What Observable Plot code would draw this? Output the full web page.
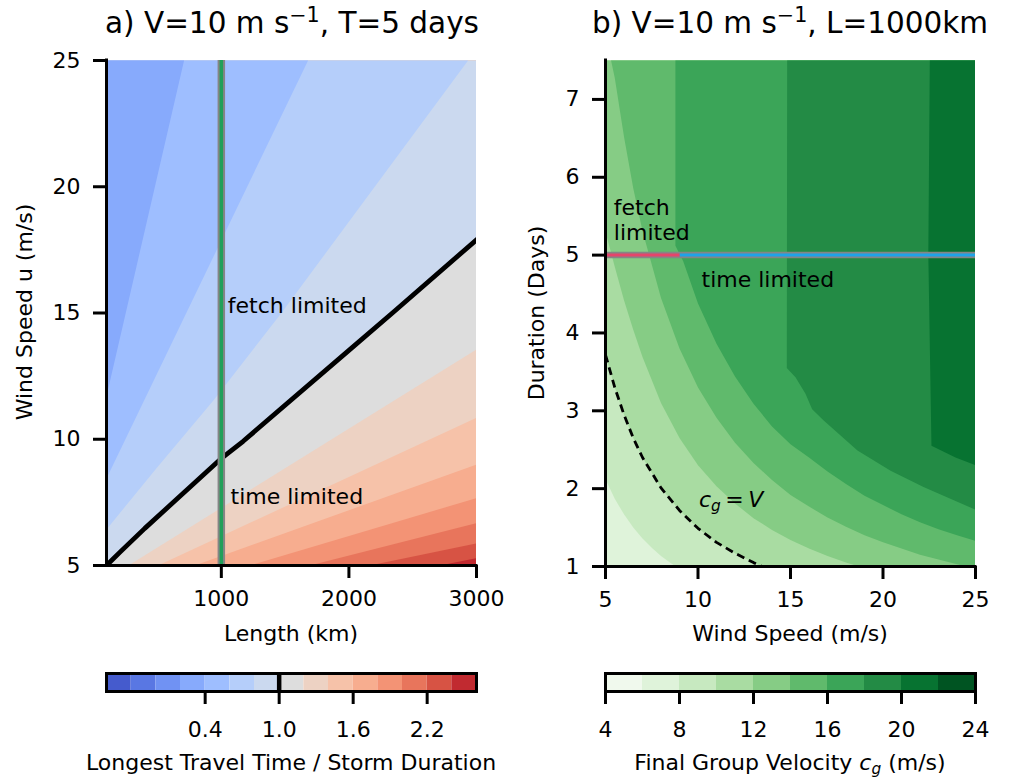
<!DOCTYPE html>
<html><head><meta charset="utf-8">
<script src="https://cdn.jsdelivr.net/npm/d3@7"></script>
<script src="https://cdn.jsdelivr.net/npm/@observablehq/plot@0.6"></script>
<style>
body{margin:0;background:#fff;}
#wrap{position:relative;width:1012px;height:778px;font-family:"DejaVu Sans",sans-serif;color:#000;overflow:hidden;}
.abs{position:absolute;white-space:nowrap;line-height:1;}
.abs svg{overflow:visible;}
</style></head><body><div id="wrap"></div>
<script>
// ---------------- Panel a data ----------------
const lengthDomain = [100, 3000];
const windDomainA = [5, 25];
const lengthTicks = [1000, 2000, 3000];
const windTicksA = [5, 10, 15, 20, 25];
const ratioLevels = [-0.4, -0.2, 0.0, 0.2, 0.4, 0.6, 0.8, 1.0, 1.2, 1.4, 1.6, 1.8, 2.0, 2.2, 2.4, 2.6];
const ratioColors = ["#455bcd","#5977e3","#7092f3","#87aafc","#9ebeff","#b5cefa","#cbd9ef","#dddddd","#edd2c3","#f6c2a9","#f7ad8f","#f39375","#e8755c","#d75344","#c12a30"];
const ratioTicks = [0.4, 1.0, 1.6, 2.2];
// contour boundaries: [length (km), wind speed (m/s)]
const ratioBoundaries = [
  {level: 0.4, pts: [[100, 11.7], [708, 25]]},
  {level: 0.6, pts: [[100, 8.45], [1680, 25]]},
  {level: 0.8, pts: [[100, 6.43], [500, 8.9], [941, 11.55], [1471, 15.0], [2934, 25]]},
  {level: 1.0, pts: [[100, 5.0], [204, 5.52], [400, 6.47], [993, 9.21], [1171, 9.92], [1993, 13.49], [2359, 15.08], [3000, 17.9]]},
  {level: 1.2, pts: [[272, 5], [3000, 13.56]]},
  {level: 1.4, pts: [[504, 5], [3000, 10.85]]},
  {level: 1.6, pts: [[792, 5], [3000, 9.0]]},
  {level: 1.8, pts: [[1223, 5], [3000, 7.67]]},
  {level: 2.0, pts: [[1693, 5], [3000, 6.68]]},
  {level: 2.2, pts: [[2163, 5], [3000, 5.88]]},
  {level: 2.4, pts: [[2712, 5], [3000, 5.29]]}
];
const fetchLength = 1000;
const labelsA = [
  {text: "fetch limited", L: 1051, u: 15.28},
  {text: "time limited", L: 1072, u: 7.70}
];

// ---------------- Panel b data ----------------
const windDomainB = [5, 25];
const durationDomain = [1, 7.5];
const windTicksB = [5, 10, 15, 20, 25];
const durationTicks = [1, 2, 3, 4, 5, 6, 7];
const cgLevels = [4, 6, 8, 10, 12, 14, 16, 18, 20, 22, 24];
const cgColors = ["#f0f9ed","#dff3da","#c7e9c0","#a9dca2","#86cc85","#60ba6c","#3ba558","#238b45","#077331","#005422"];
const cgTicks = [4, 8, 12, 16, 20, 24];
// contour boundaries: [wind speed (m/s), duration (days)]
const cgBoundaries = [
  {level: 8, pts: [[5,2.12],[5.5,1.87],[6,1.67],[6.5,1.50],[7,1.36],[7.5,1.24],[8,1.135],[8.5,1.047],[8.8,1.0]]},
  {level: 10, pts: [[5,3.72],[5.5,3.30],[6,2.95],[6.5,2.65],[7,2.40],[8,2.01],[9,1.72],[10,1.49],[11,1.31],[12,1.17],[13,1.05],[13.45,1.0]]},
  {level: 12, pts: [[5,5.3],[5.5,4.85],[6,4.42],[6.5,4.04],[7,3.69],[8,3.10],[9,2.65],[10,2.30],[11,2.03],[12,1.81],[13,1.62],[14,1.47],[15,1.34],[16,1.23],[17,1.135],[18,1.05],[18.7,1.0]]},
  {level: 14, pts: [[5.3,7.5],[5.5,7.28],[6,6.52],[6.5,5.86],[7,5.31],[8,4.45],[9,3.80],[10,3.30],[11,2.91],[12,2.59],[13,2.33],[14,2.11],[15,1.92],[16,1.77],[17,1.63],[18,1.51],[19,1.40],[20,1.31],[21,1.23],[22,1.15],[23,1.09],[24,1.03],[24.5,1.0]]},
  {level: 16, pts: [[8.78,7.5],[8.78,5.12],[9.2,4.92],[10,4.38],[11,3.86],[12,3.44],[13,3.09],[14,2.80],[15,2.57],[16,2.40],[17,2.22],[18,2.06],[19,1.91],[20,1.79],[21,1.67],[22,1.57],[23,1.48],[24,1.40],[25,1.33]]},
  {level: 18, pts: [[14.82,7.5],[14.80,3.55],[15.27,3.43],[15.81,3.22],[16.17,3.02],[16.78,2.88],[18.62,2.49],[20.41,2.23],[22.19,2.02],[25,1.73]]},
  {level: 20, pts: [[22.53,7.5],[22.45,5.0],[22.62,2.55],[23.92,2.40],[25,2.30]]}
];
const cgEqualsV = 10;
const stormDuration = 5;
const regimeSwitchWind = 9.04;
const labelsB = [
  {text: "fetch", u: 5.45, D: 5.60},
  {text: "limited", u: 5.45, D: 5.28},
  {text: "time limited", u: 10.19, D: 4.68}
];

// ---------------- helpers ----------------
const FS = 22;
const wrap = document.getElementById("wrap");
function place(node, left, top) {
  const d = document.createElement("div");
  d.className = "abs";
  d.style.left = left + "px";
  d.style.top = top + "px";
  d.appendChild(node);
  wrap.appendChild(d);
}
function addText(html, x, baseline, size, anchor = "middle") {
  const d = document.createElement("div");
  d.className = "abs";
  d.style.fontSize = size + "px";
  d.style.left = x + "px";
  d.style.top = (baseline - 0.846 * size) + "px";
  if (anchor === "middle") d.style.transform = "translateX(-50%)";
  d.innerHTML = html;
  wrap.appendChild(d);
}
function addVText(html, cx, cy, size) {
  const d = document.createElement("div");
  d.className = "abs";
  d.style.fontSize = size + "px";
  d.style.left = cx + "px";
  d.style.top = cy + "px";
  d.style.transform = "translate(-50%,-50%) rotate(-90deg)";
  d.innerHTML = html;
  wrap.appendChild(d);
}
const xy = {x: d => d[0], y: d => d[1]};
const style = {fontFamily: "DejaVu Sans", fontSize: FS + "px", background: "transparent", color: "black", overflow: "visible"};
const axisOpts = {tickSize: 13, strokeWidth: 3, fontSize: FS, label: null};

// ---------------- Panel a ----------------
function polyA(pts) {
  return [...pts, [lengthDomain[1], windDomainA[1]], [lengthDomain[0], windDomainA[1]], [lengthDomain[0], windDomainA[0]]];
}
const bandsDescA = ratioBoundaries.slice().sort((a, b) => b.level - a.level);
const plotA = Plot.plot({
  width: 500, height: 650,
  marginLeft: 106, marginRight: 24, marginTop: 60, marginBottom: 85,
  style,
  x: {domain: lengthDomain, nice: false},
  y: {domain: windDomainA, nice: false},
  marks: [
    Plot.rect([0], {x1: lengthDomain[0], x2: lengthDomain[1], y1: windDomainA[0], y2: windDomainA[1], fill: ratioColors[ratioColors.length - 1]}),
    ...bandsDescA.map(b => Plot.line(polyA(b.pts), {...xy, fill: ratioColors[ratioLevels.indexOf(b.level) - 1], stroke: "none", clip: true})),
    Plot.line(ratioBoundaries.find(b => b.level === 1.0).pts, {...xy, stroke: "black", strokeWidth: 4.8, clip: true}),
    Plot.ruleX([fetchLength], {stroke: "#858585", strokeWidth: 7.5}),
    Plot.ruleX([fetchLength], {stroke: "#21a05a", strokeWidth: 3.5}),
    Plot.text(labelsA, {x: "L", y: "u", text: "text", textAnchor: "start", fontSize: FS, fill: "black"}),
    Plot.ruleX([lengthDomain[0]], {stroke: "black", strokeWidth: 3, strokeLinecap: "square"}),
    Plot.ruleY([windDomainA[0]], {stroke: "black", strokeWidth: 3, strokeLinecap: "square"}),
    Plot.axisX({...axisOpts, ticks: lengthTicks, tickFormat: d3.format("d"), tickPadding: 12}),
    Plot.axisY({...axisOpts, ticks: windTicksA, tickFormat: d3.format("d"), tickPadding: 13})
  ]
});
place(plotA, 0, 0);

// ---------------- Panel b ----------------
function polyB(pts) {
  return [...pts, [windDomainB[1], durationDomain[0]], [windDomainB[1], durationDomain[1]], [windDomainB[0], durationDomain[1]]];
}
const plotB = Plot.plot({
  width: 512, height: 650,
  marginLeft: 105, marginRight: 37, marginTop: 60, marginBottom: 84,
  style,
  x: {domain: windDomainB, nice: false},
  y: {domain: durationDomain, nice: false},
  marks: [
    Plot.rect([0], {x1: windDomainB[0], x2: windDomainB[1], y1: durationDomain[0], y2: durationDomain[1], fill: cgColors[1]}),
    ...cgBoundaries.map(b => Plot.line(polyB(b.pts), {...xy, fill: cgColors[cgLevels.indexOf(b.level)], stroke: "none", clip: true})),
    Plot.line(cgBoundaries.find(b => b.level === cgEqualsV).pts, {...xy, stroke: "black", strokeWidth: 2.8, strokeDasharray: "8,5", strokeLinecap: "butt", clip: true}),
    Plot.ruleY([stormDuration], {x1: windDomainB[0], x2: windDomainB[1], stroke: "#858585", strokeWidth: 6.5}),
    Plot.ruleY([stormDuration], {x1: windDomainB[0], x2: regimeSwitchWind, stroke: "#e6446b", strokeWidth: 3}),
    Plot.ruleY([stormDuration], {x1: regimeSwitchWind, x2: windDomainB[1], stroke: "#1ea3e8", strokeWidth: 3}),
    Plot.text(labelsB, {x: "u", y: "D", text: "text", textAnchor: "start", fontSize: FS, fill: "black"}),
    Plot.ruleX([windDomainB[0]], {stroke: "black", strokeWidth: 3, strokeLinecap: "square"}),
    Plot.ruleY([durationDomain[0]], {stroke: "black", strokeWidth: 3, strokeLinecap: "square"}),
    Plot.axisX({...axisOpts, ticks: windTicksB, tickFormat: d3.format("d"), tickPadding: 12}),
    Plot.axisY({...axisOpts, ticks: durationTicks, tickFormat: d3.format("d"), tickPadding: 13})
  ]
});
place(plotB, 500, 0);

// ---------------- Colorbars ----------------
const cbA = ratioColors.map((c, i) => ({x1: ratioLevels[i], x2: ratioLevels[i + 1], c}));
const colorbarA = Plot.plot({
  width: 500, height: 80,
  marginLeft: 106, marginRight: 24, marginTop: 13, marginBottom: 49,
  style,
  x: {domain: [ratioLevels[0], ratioLevels[ratioLevels.length - 1]], nice: false},
  y: {domain: [0, 1], axis: null},
  marks: [
    Plot.rect(cbA, {x1: "x1", x2: "x2", y1: 0, y2: 1, fill: d => d.c}),
    Plot.ruleX([1.0], {stroke: "black", strokeWidth: 4.5}),
    Plot.frame({stroke: "black", strokeWidth: 3}),
    Plot.axisX({...axisOpts, ticks: ratioTicks, tickFormat: d3.format(".1f"), tickPadding: 17})
  ]
});
place(colorbarA, 0, 660);

const cbB = cgColors.map((c, i) => ({x1: cgLevels[i], x2: cgLevels[i + 1], c}));
const colorbarB = Plot.plot({
  width: 512, height: 80,
  marginLeft: 105, marginRight: 37, marginTop: 13, marginBottom: 49,
  style,
  x: {domain: [cgLevels[0], cgLevels[cgLevels.length - 1]], nice: false},
  y: {domain: [0, 1], axis: null},
  marks: [
    Plot.rect(cbB, {x1: "x1", x2: "x2", y1: 0, y2: 1, fill: d => d.c}),
    Plot.frame({stroke: "black", strokeWidth: 3}),
    Plot.axisX({...axisOpts, ticks: cgTicks, tickFormat: d3.format("d"), tickPadding: 17})
  ]
});
place(colorbarB, 500, 660);

// ---------------- Text ----------------
const sup = '<span style="font-size:0.7em;position:relative;top:-0.55em">\u22121</span>';
addText("a) V=10 m s" + sup + ", T=5 days", 292, 34, 29.5);
addText("b) V=10 m s" + sup + ", L=1000km", 790, 34, 29.5);
addText("Length (km)", 291, 642, FS);
addText("Wind Speed (m/s)", 790, 642, FS);
addVText("Wind Speed u (m/s)", 25, 312, FS);
addVText("Duration (Days)", 537, 313, FS);
addText("Longest Travel Time / Storm Duration", 291, 771, FS);
addText('Final Group Velocity <i>c</i><sub style="font-size:0.7em;vertical-align:-0.25em;"><i>g</i></sub> (m/s)', 790, 771, FS);
addText('<i>c</i><sub style="font-size:0.7em;vertical-align:-0.25em;"><i>g</i></sub>\u2009=\u2009<i>V</i>', 699, 508, FS, "start");
</script></body></html>
